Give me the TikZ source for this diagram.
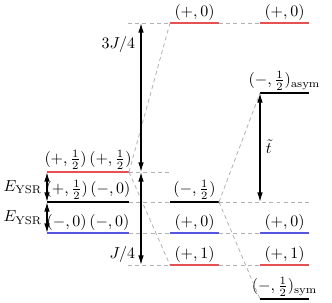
\documentclass[tikz,border=0pt]{standalone}
\usetikzlibrary{arrows.meta,calc}
\definecolor{levelred}{RGB}{230,80,80}
\definecolor{levelblue}{RGB}{85,85,225}
\begin{document}
\begin{tikzpicture}[
        x=0.022cm, y=-0.022cm,
        level/.style={line width=1.1pt},
        guide/.style={gray!60, dash pattern=on 2.5pt off 2pt, line width=0.5pt},
        gap/.style={{Latex[length=6pt,width=3.5pt]}-{Latex[length=6pt,width=3.5pt]}, line width=0.8pt},
        state/.style={anchor=south, inner sep=1.5pt}
    ]
        \useasboundingbox (0,0) rectangle (332,302);
        % levels: name/left/right/height/colour/label
        \foreach \name/\xa/\xb/\y/\col/\txt in {
            L1/47/129/172/levelred/{$(+,\frac{1}{2})\,(+,\frac{1}{2})$},
            L2/47/129/202/black/{$(+,\frac{1}{2})\,(-,0)$},
            L3/47/129/233/levelblue/{$(-,0)\,(-,0)$},
            M0/170/219/23/levelred/{$(+,0)$},
            M1/170/219/202/black/{$(-,\frac{1}{2})$},
            M2/170/219/233/levelblue/{$(+,0)$},
            M3/170/219/265/levelred/{$(+,1)$},
            R0/260/309/23/levelred/{$(+,0)$},
            R1/260/309/93/black/{$(-,\frac{1}{2})_{\mathrm{asym}}$},
            R2/260/309/233/levelblue/{$(+,0)$},
            R3/260/309/265/levelred/{$(+,1)$},
            R4/260/309/299/black/{$(-,\frac{1}{2})_{\mathrm{sym}}$}} {
            \coordinate (\name-l) at (\xa,\y);
            \coordinate (\name-r) at (\xb,\y);
            \draw[level, \col] (\name-l) -- (\name-r);
            \node[state] (\name-t) at ($(\name-l)!0.5!(\name-r)$) {\txt};
        }
        % free ends of guides and arrows
        \coordinate (top) at (128,23);
        \coordinate (mid) at (170,172);
        \coordinate (low) at (128,265);
        \coordinate (far) at (310,202);
        \coordinate (ja) at (141,23);
        \coordinate (jb) at (141,172);
        \coordinate (jc) at (141,265);
        \coordinate (tb) at (260,202);
        % dashed guides
        \draw[guide] (top) -- (M0-l);
        \draw[guide] (M0-r) -- (R0-l);
        \draw[guide] (L1-r) -- (mid);
        \draw[guide] (L1-r) -- (M0-l);
        \draw[guide] (L1-r) -- (M3-l);
        \draw[guide] (L2-r) -- (M1-l);
        \draw[guide] (M1-r) -- (far);
        \draw[guide] (M1-r) -- (R1-l);
        \draw[guide] (M1-r) -- (R4-l);
        \draw[guide] (L3-r) -- (M2-l);
        \draw[guide] (M2-r) -- (R2-l);
        \draw[guide] (low) -- (M3-l);
        \draw[guide] (M3-r) -- (R3-l);
        % gaps
        \draw[gap] (ja) -- (jb);
        \draw[gap] (jb) -- (jc);
        \draw[gap] (L1-l) -- (L2-l);
        \draw[gap] (L2-l) -- (L3-l);
        \draw[gap] (R1-l) -- (tb);
        \node[anchor=east, inner sep=1pt] (j3) at (137,45) {$3J/4$};
        \node[anchor=east, inner sep=1pt] (j1) at (137,255) {$J/4$};
        \node[anchor=east, inner sep=0.5pt, xshift=-2.5pt] (e1) at ($(L1-l)!0.5!(L2-l)$) {$E_{\mathrm{YSR}}$};
        \node[anchor=east, inner sep=0.5pt, xshift=-2.5pt] (e2) at ($(L2-l)!0.5!(L3-l)$) {$E_{\mathrm{YSR}}$};
        \node[anchor=west, inner sep=1pt] (tt) at (264,147) {$\tilde{t}$};
    \end{tikzpicture}
\end{document}
